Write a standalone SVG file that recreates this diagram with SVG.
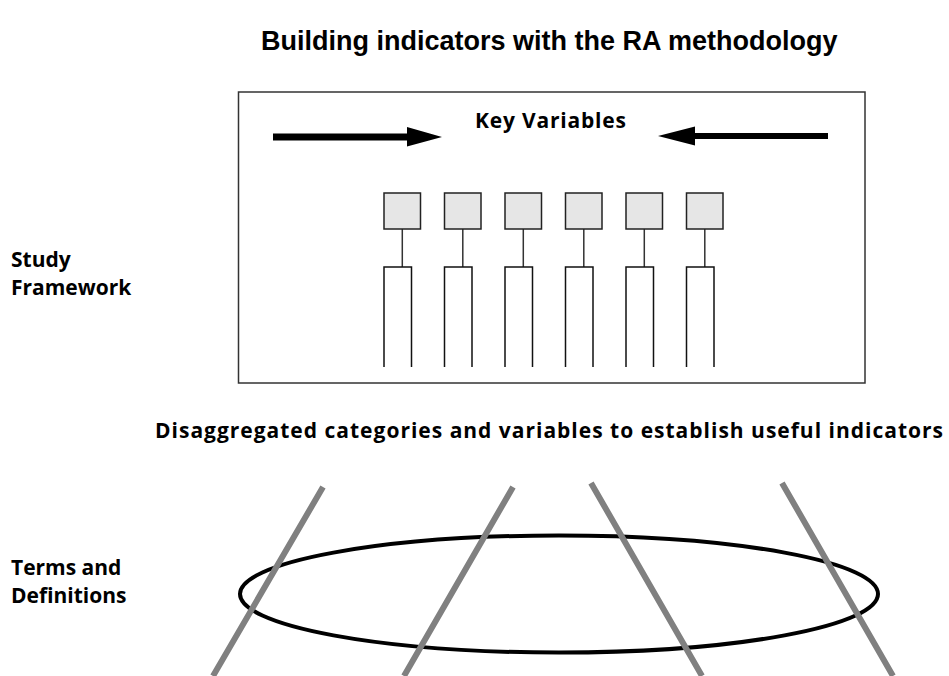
<svg xmlns="http://www.w3.org/2000/svg" width="949" height="676" viewBox="0 0 949 676">
<style>
.t{font-family:"Open Sans","DejaVu Sans",sans-serif;font-weight:bold;font-size:21px;fill:#000}
.title{font-family:"Liberation Sans",Arial,sans-serif;font-weight:bold;font-size:27px;fill:#000}
.kv{fill:#e6e6e6;stroke:#222;stroke-width:1.5}
.col{fill:none;stroke:#111;stroke-width:1.5}
.link{stroke:#333;stroke-width:1.5;fill:none}
.rod{stroke:#808080;stroke-width:6;fill:none}
</style>
<rect width="949" height="676" fill="#fff"/>
<text class="title" x="261" y="50">Building indicators with the RA methodology</text>
<g id="framework">
<rect x="238.5" y="92" width="626.5" height="291" fill="none" stroke="#333" stroke-width="1.5"/>
<text class="t" x="475" y="128" textLength="151" lengthAdjust="spacing">Key Variables</text>
<polygon points="273,133.5 407,133.5 407,127 442,137 407,146.5 407,140.5 273,140.5" fill="#000"/>
<polygon points="828,133 695,133 695,126.5 658,136 695,145.5 695,139 828,139" fill="#000"/>
</g>
<g id="connectors">
<path class="link" d="M402.3 229V267M462.8 229V267M523.3 229V267M583.8 229V267M644.3 229V267M704.8 229V267"/>
</g>
<g id="var1"><rect class="kv" x="384" y="193" width="36.5" height="36"/><path class="col" d="M384 367V267H411.5V367"/></g>
<g id="var2"><rect class="kv" x="444.5" y="193" width="36.5" height="36"/><path class="col" d="M444.5 367V267H472V367"/></g>
<g id="var3"><rect class="kv" x="505" y="193" width="36.5" height="36"/><path class="col" d="M505 367V267H532.5V367"/></g>
<g id="var4"><rect class="kv" x="565.5" y="193" width="36.5" height="36"/><path class="col" d="M565.5 367V267H593V367"/></g>
<g id="var5"><rect class="kv" x="626" y="193" width="36.5" height="36"/><path class="col" d="M626 367V267H653.5V367"/></g>
<g id="var6"><rect class="kv" x="686.5" y="193" width="36.5" height="36"/><path class="col" d="M686.5 367V267H714V367"/></g>
<g id="label-study"><text class="t" x="11" y="267">Study</text><text class="t" x="11" y="295">Framework</text></g>
<text class="t" x="155" y="438" textLength="788" lengthAdjust="spacing">Disaggregated categories and variables to establish useful indicators</text>
<g id="label-terms"><text class="t" x="11" y="575">Terms and</text><text class="t" x="11" y="603">Definitions</text></g>
<g id="terms">
<ellipse cx="559" cy="594" rx="319" ry="58.5" fill="none" stroke="#000" stroke-width="4"/>
<path class="rod" d="M323 487L213 676M513 487L404 676M591 483L702 676M782 483L893 676"/>
</g>
</svg>
